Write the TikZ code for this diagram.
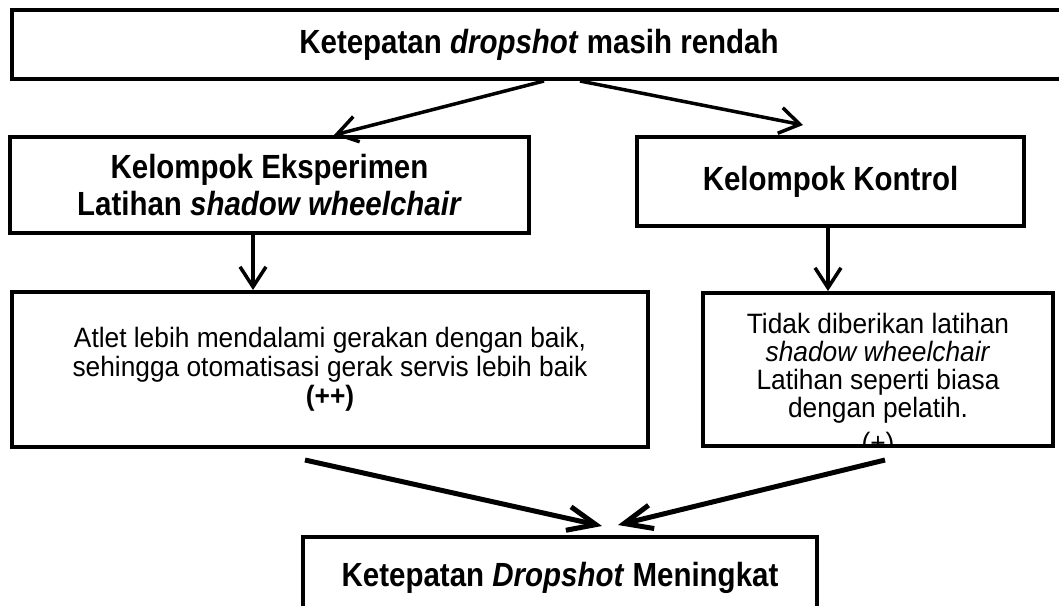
\documentclass[tikz,border=0pt]{standalone}
\usepackage{fontspec}
\setmainfont{Liberation Sans}
\newfontfamily\hfont[FakeStretch=0.88]{Liberation Sans}
\newfontfamily\bfont[FakeStretch=0.94]{Liberation Sans}
\usetikzlibrary{arrows.meta,calc}
\begin{document}
\begin{tikzpicture}[x=1pt,y=-1pt,
  box/.style={draw=black,line width=4pt,rectangle,inner sep=0pt},
  head/.style={font=\hfont\bfseries\fontsize{33.5}{37}\selectfont,align=center},
  body/.style={font=\bfont\fontsize{28}{29}\selectfont,align=center},
  arr/.style={line width=3.5pt,-{Straight Barb[length=20pt,width=26pt]}},
  bigarr/.style={line width=5pt,-{Straight Barb[length=28pt,width=24pt]}}]
\useasboundingbox (0,0) rectangle (1059,605);
\clip (0,0) rectangle (1059,605);
\fill[white] (0,0) rectangle (1059,605);

\node[box,head,minimum width=1054pt,minimum height=69pt] (top) at (539,44.5)
  {Ketepatan \textit{dropshot} masih rendah};
\node[box,head,minimum width=519pt,minimum height=96pt] (lbox) at (269.5,185)
  {Kelompok Eksperimen\\Latihan \textit{shadow wheelchair}};
\node[box,head,minimum width=387pt,minimum height=89pt] (rbox) at (830.5,181.5)
  {Kelompok Kontrol};
\node[box,body,minimum width=636pt,minimum height=155pt] (l3) at (330,369.5)
  {Atlet lebih mendalami gerakan dengan baik,\\sehingga otomatisasi gerak servis lebih baik\\\textbf{(++)}};
\node[box,minimum width=350pt,minimum height=153pt] (r3) at (878,369.5) {};
\begin{scope}
  \clip ($(r3.south west)+(2pt,2pt)$) rectangle ($(r3.north east)+(-2pt,-2pt)$);
  \node[body,font=\bfont\fontsize{28}{28}\selectfont,inner sep=0pt] (r3t) at (878,385.5)
    {Tidak diberikan latihan\\\textit{shadow wheelchair}\\Latihan seperti biasa\\dengan pelatih.\\[7pt](+)};
\end{scope}
\node[box,head,minimum width=514pt,minimum height=82pt] (bot) at (560,578)
  {Ketepatan \textit{Dropshot} Meningkat};

\draw[arr] ($(top.south)+(5pt,0pt)$) -- ($(lbox.north)+(64.5pt,0pt)$);
\draw[arr] ($(top.south)+(41pt,0pt)$) -- ($(rbox.north)+(-27.5pt,10pt)$);
\draw[arr] ($(lbox.south)+(-16.5pt,0pt)$) -- ($(l3.north)+(-77pt,0pt)$);
\draw[arr] ($(rbox.south)+(-2.5pt,0pt)$) -- ($(r3.north)+(-50pt,0pt)$);
\draw[bigarr] ($(l3.south)+(-25pt,-11pt)$) -- ($(bot.north)+(42pt,9pt)$);
\draw[bigarr] ($(r3.south)+(7pt,-12pt)$) -- ($(bot.north)+(58pt,10pt)$);
\end{tikzpicture}
\end{document}
